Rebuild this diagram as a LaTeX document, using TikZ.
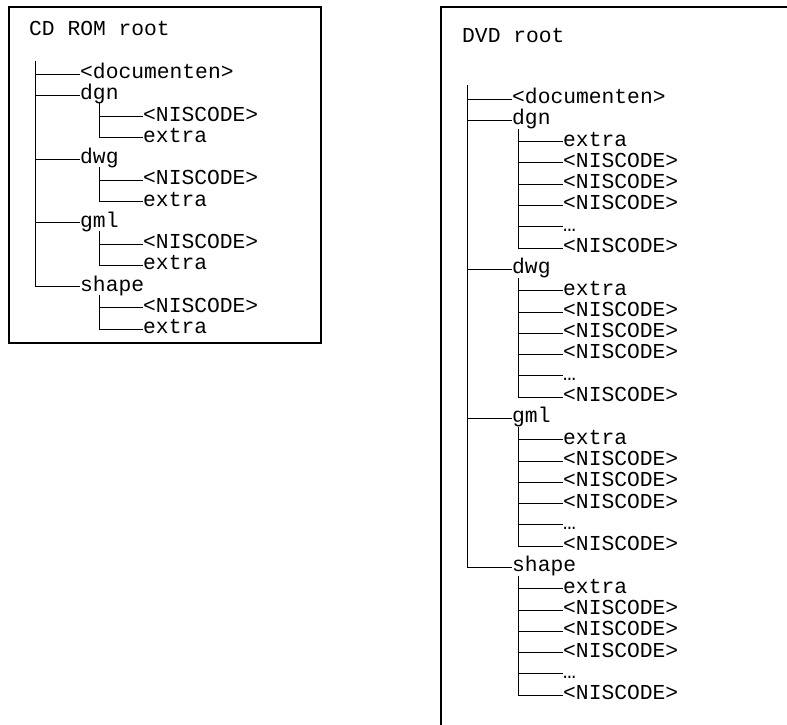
\documentclass[tikz,border=0pt]{standalone}
\usepackage{fontspec}
\setmonofont{Liberation Mono}
\usepackage{tikz}
\usetikzlibrary{positioning}
\tikzset{
  item/.style={anchor=west,inner sep=0pt,text height=14pt,text depth=5pt,font=\ttfamily\fontsize{21.3}{21.3}\selectfont},
  tree/.style={line width=0.8pt},
  frame/.style={line width=1.4pt},
}

\begin{document}
\begin{tikzpicture}[x=1pt,y=-1pt]
\useasboundingbox (0,0) rectangle (787,725);
\clip (0,0) rectangle (787,725);
\draw[frame] (9,7) rectangle (321,343);
\draw[frame] (441,7) rectangle (830,770);

% CD ROM
\node[item] (cd) at (29,31) {CD ROM root};
\coordinate (cdtrunk) at (35,61);
\node[item] (cd-doc) at (80,74) {<documenten>};
\draw[tree] (cdtrunk) |- (cd-doc.west);
\foreach \nm/\i in {dgn/1,dwg/4,gml/7,shape/10} {
  \node[item] (cd-\nm) at (80,{74+21.25*\i}) {\nm};
  \draw[tree] (cdtrunk) |- (cd-\nm.west);
  \coordinate (cd-\nm-t) at (99,{74+21.25*\i+8});
  \node[item] (cd-\nm-a) at (143,{74+21.25*(\i+1)}) {<NISCODE>};
  \node[item] (cd-\nm-b) at (143,{74+21.25*(\i+2)}) {extra};
  \draw[tree] (cd-\nm-t) |- (cd-\nm-a.west);
  \draw[tree] (cd-\nm-t) |- (cd-\nm-b.west);
}

% DVD
\node[item] (dvd) at (462,38) {DVD root};
\coordinate (dvdtrunk) at (467,85);
\node[item] (dvd-doc) at (512,99) {<documenten>};
\draw[tree] (dvdtrunk) |- (dvd-doc.west);
\foreach \nm/\i in {dgn/1,dwg/8,gml/15,shape/22} {
  \node[item] (dvd-\nm) at (512,{99+21.29*\i}) {\nm};
  \draw[tree] (dvdtrunk) |- (dvd-\nm.west);
  \coordinate (dvd-\nm-t) at (518,{99+21.29*\i+9});
  \foreach \lab [count=\k] in {extra,<NISCODE>,<NISCODE>,<NISCODE>,…,<NISCODE>} {
    \node[item] (dvd-\nm-\k) at (563,{99+21.29*(\i+\k)}) {\lab};
    \draw[tree] (dvd-\nm-t) |- (dvd-\nm-\k.west);
  }
}
\end{tikzpicture}
\end{document}
